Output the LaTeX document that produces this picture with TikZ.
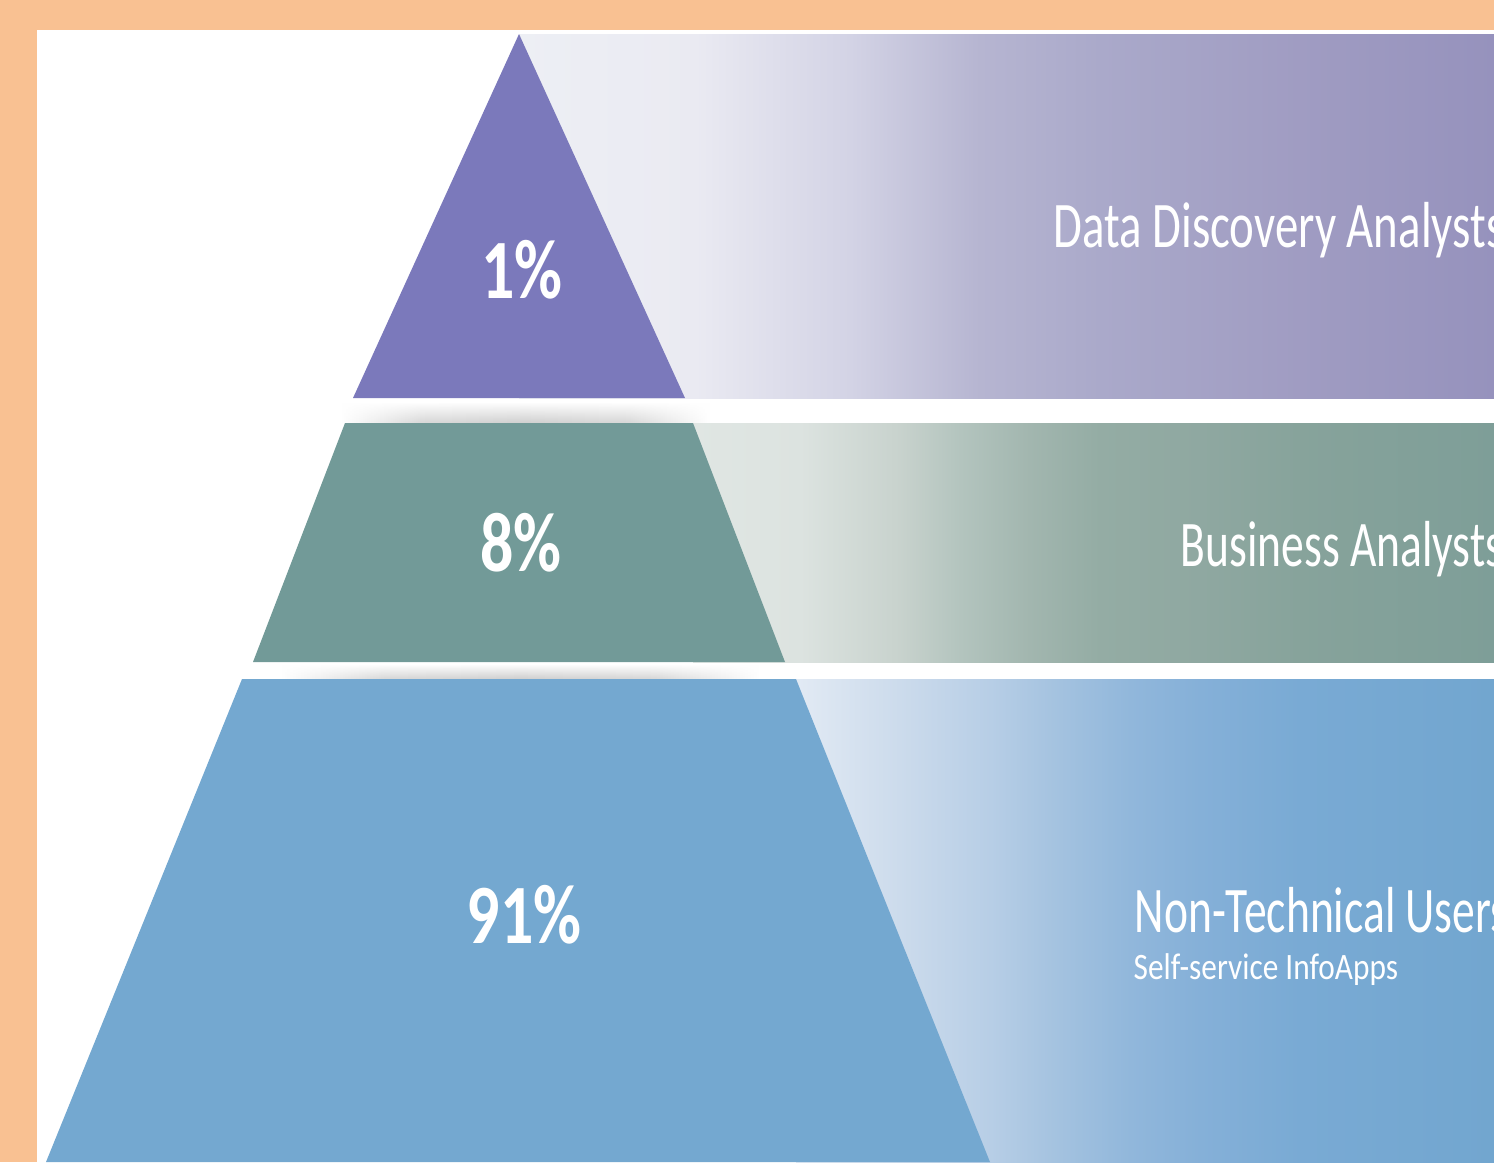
\documentclass[tikz,border=0pt]{standalone}
\usepackage{graphicx}
\usepackage{fontspec}
\setmainfont{Carlito}
\usetikzlibrary{fadings}

\definecolor{pageorange}{HTML}{F9C192}
\definecolor{tierpurple}{HTML}{7B79BB}
\definecolor{tierteal}{HTML}{729A98}
\definecolor{tierblue}{HTML}{74A8D0}

\pgfdeclarehorizontalshading{discoveryband}{100bp}{%
  rgb(0bp)=(0.929,0.937,0.957); rgb(25bp)=(0.929,0.937,0.957);
  rgb(34bp)=(0.918,0.918,0.949); rgb(42bp)=(0.827,0.827,0.898);
  rgb(48.6bp)=(0.714,0.710,0.820); rgb(54.8bp)=(0.667,0.663,0.792);
  rgb(65bp)=(0.627,0.612,0.761); rgb(75bp)=(0.588,0.573,0.741);
  rgb(100bp)=(0.588,0.573,0.741)}
\pgfdeclarehorizontalshading{businessband}{100bp}{%
  rgb(0bp)=(0.878,0.902,0.890); rgb(25bp)=(0.878,0.902,0.890);
  rgb(31.7bp)=(0.863,0.890,0.878); rgb(37.9bp)=(0.784,0.824,0.804);
  rgb(41.7bp)=(0.702,0.769,0.745); rgb(46bp)=(0.635,0.714,0.686);
  rgb(50.4bp)=(0.580,0.675,0.643); rgb(56.6bp)=(0.561,0.659,0.631);
  rgb(62.9bp)=(0.529,0.639,0.608); rgb(75bp)=(0.494,0.620,0.596);
  rgb(100bp)=(0.494,0.620,0.596)}
\pgfdeclarehorizontalshading{usersband}{100bp}{%
  rgb(0bp)=(0.886,0.918,0.957); rgb(25bp)=(0.886,0.918,0.957);
  rgb(32.4bp)=(0.800,0.859,0.925); rgb(38.9bp)=(0.718,0.808,0.902);
  rgb(43.4bp)=(0.647,0.765,0.878); rgb(48.9bp)=(0.569,0.718,0.859);
  rgb(53.9bp)=(0.522,0.690,0.847); rgb(61.1bp)=(0.475,0.667,0.831);
  rgb(75bp)=(0.447,0.651,0.812); rgb(100bp)=(0.447,0.651,0.812)}
\pgfdeclarehorizontalshading{gapshade}{100bp}{%
  rgb(0bp)=(1,1,1); rgb(25bp)=(1,1,1); rgb(36bp)=(0.85,0.85,0.85);
  rgb(50bp)=(0.82,0.82,0.82); rgb(64bp)=(0.85,0.85,0.85);
  rgb(75bp)=(1,1,1); rgb(100bp)=(1,1,1)}

\tikzset{
  pct/.style={text=white, inner sep=0pt, font=\bfseries\fontsize{24}{26}\selectfont},
  role/.style={anchor=base west, inner sep=0pt, text=white, font=\fontsize{18.5}{20}\selectfont},
  subrole/.style={anchor=base west, inner sep=0pt, text=white, font=\fontsize{10.6}{12}\selectfont},
  gapshadow/.style={shading=gapshade, path fading=north}
}

\begin{document}
\begin{tikzpicture}[x=0.01cm, y=-0.01cm]

   \useasboundingbox (0,0) rectangle (1494,1162);
   \clip (0,0) rectangle (1494,1162);
   \fill [pageorange] (0,0) rectangle (1494,1162);
   \fill [white] (37,30) rectangle (1494,1162);

   % bands behind the pyramid
   \shade [shading=discoveryband] (519,34) rectangle (1494,398);
   \shade [shading=businessband] (693,423) rectangle (1494,662);
   \shade [shading=usersband] (796,679) rectangle (1494,1162);

   % pyramid tiers
   \fill [tierpurple] (519,34) -- (685,398) -- (353,398) -- cycle;
   \fill [tierteal] (345,423) -- (693,423) -- (785,662) -- (253,662) -- cycle;
   \fill [tierblue] (242,679) -- (796,679) -- (990,1162) -- (46,1162) -- cycle;

   \shade [gapshadow] (340,402) rectangle (710,422);
   \shade [gapshadow] (280,664) rectangle (760,678);

   \node (OnePct) at (522,270) [pct] {\scalebox{0.78}[1]{1\%}};
   \node (EightPct) at (521,543) [pct] {\scalebox{0.78}[1]{8\%}};
   \node (NinetyOnePct) at (524,915) [pct] {\scalebox{0.78}[1]{91\%}};

   \node (Discovery) at (1053,247) [role] {\scalebox{0.72}[1]{Data Discovery Analysts}};
   \node (Business) at (1180,566) [role] {\scalebox{0.70}[1]{Business Analysts}};
   \node (NonTech) at (1134,932) [role] {\scalebox{0.70}[1]{Non-Technical Users}};
   \node (InfoApps) at (1133,979) [subrole] {\scalebox{0.84}[1]{Self-service InfoApps}};

\end{tikzpicture}
\end{document}
